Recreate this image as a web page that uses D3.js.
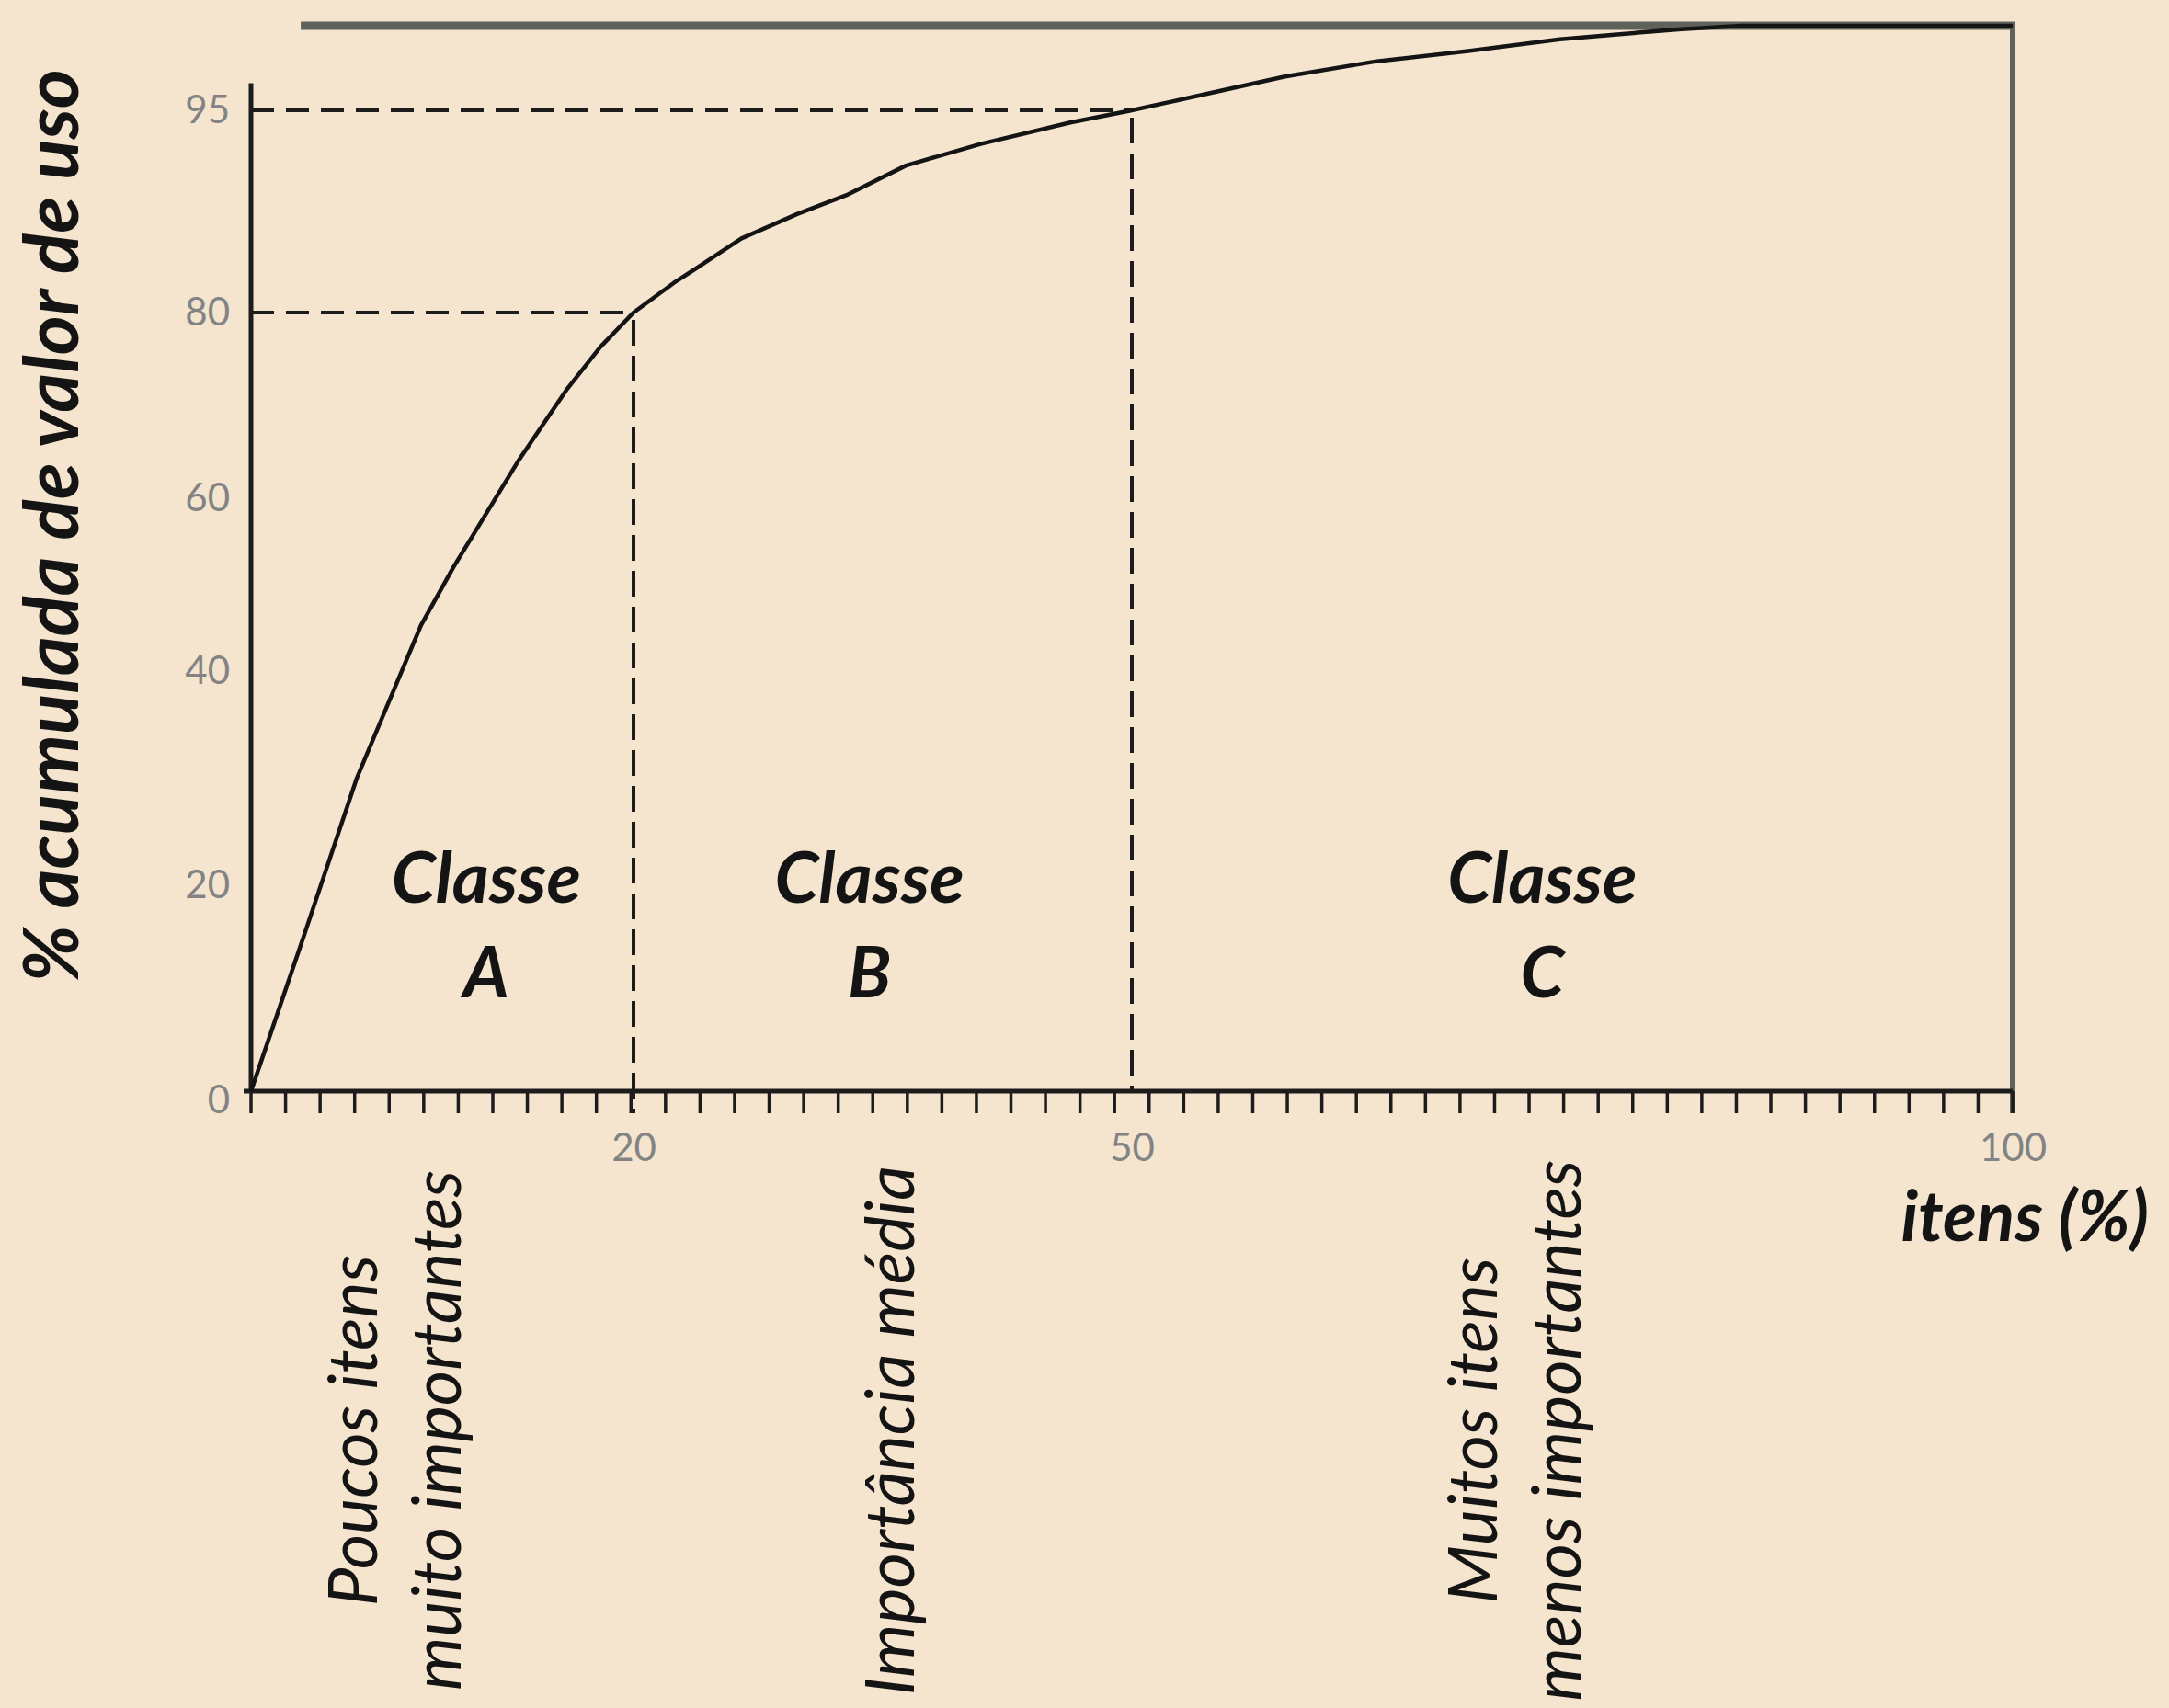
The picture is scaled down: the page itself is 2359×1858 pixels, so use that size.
<!DOCTYPE html>
<html>
<head>
<meta charset="utf-8">
<script src="https://cdn.jsdelivr.net/npm/d3@7"></script>
<style>
  html, body { margin: 0; padding: 0; background: #f5e5cf; }
  svg { display: block; }
</style>
</head>
<body>
<svg id="chart" width="2359" height="1858"></svg>
<script>
// ---------------- DATA ----------------
// Cumulative ABC (Pareto) curve: % of items vs cumulative % of usage value
const curveX = [0, 2.84, 5.53, 8.89, 10.58, 13.94, 16.54, 18.27, 20, 22.43, 24.3, 26.5, 29.85, 32.8, 36.4, 40.9, 46.3, 50, 53.5, 58.7, 63.9, 69.1, 74.3, 77.7, 81.2, 84.6, 100];
const curveY = [0, 15.5, 30.0, 45.3, 52.0, 63.9, 71.8, 76.3, 80, 82.2, 83.7, 85.5, 87.3, 88.7, 90.9, 92.5, 94.1, 95, 95.8, 97.0, 97.9, 98.5, 99.2, 99.5, 99.8, 100, 100];
const yTickValues = [0, 20, 40, 60, 80, 95];
const xTickValues = [20, 50, 100];
const cutoffX = [20, 50];      // class boundaries on items axis
const cutoffY = [80, 95];      // matching cumulative values
const classNames = ["A", "B", "C"];
const classCenters = [12.3, 34.2, 73.3];
const descLines = [["Poucos itens", "muito importantes"], ["Importância média"], ["Muitos itens", "menos importantes"]];
const descStart = [6.6, 36.9, 70.7];
const minorTickIntervals = 51;
const yTitle = "% acumulada de valor de uso";
const xTitle = "itens (%)";

// ---------------- LAYOUT ----------------
const svg = d3.select("#chart");
const x = d3.scaleLinear().domain([0, 20, 50, 100]).range([273, 689, 1231, 2189]);
const y = d3.scaleLinear().domain([0, 20, 40, 60, 80, 95, 100]).range([1187, 963, 730, 542, 340, 120, 28]);
const ruler = d3.scaleLinear().domain([0, minorTickIntervals]).range([x(0), x(100)]);
const tickLen = 24;
const ink = "#1c1c1c";
const frameGray = "#5e625a";
const labelGray = "#838383";
const font = "Lato, 'Open Sans', sans-serif";

svg.append("rect").attr("width", 2359).attr("height", 1858).attr("fill", "#f5e5cf");

// top (100%) line and right frame
svg.append("line")
  .attr("x1", x(2.6)).attr("x2", x(100) + 3)
  .attr("y1", y(100)).attr("y2", y(100))
  .attr("stroke", frameGray).attr("stroke-width", 9);
svg.append("line")
  .attr("x1", x(100)).attr("x2", x(100))
  .attr("y1", y(100)).attr("y2", y(0) + tickLen)
  .attr("stroke", frameGray).attr("stroke-width", 6);

// dashed cutoff lines
cutoffX.forEach((cx, i) => {
  svg.append("line")
    .attr("x1", x(0)).attr("x2", x(cx))
    .attr("y1", y(cutoffY[i])).attr("y2", y(cutoffY[i]))
    .attr("stroke", ink).attr("stroke-width", 4).attr("stroke-dasharray", "25 13");
  svg.append("line")
    .attr("x1", x(cx)).attr("x2", x(cx))
    .attr("y1", y(cutoffY[i]) + 8).attr("y2", y(0) + (i === 0 ? tickLen : 0))
    .attr("stroke", ink).attr("stroke-width", 4).attr("stroke-dasharray", "28 11");
});

// minor ticks along the x axis
svg.append("g").selectAll("line")
  .data(d3.range(minorTickIntervals + 1))
  .join("line")
  .attr("x1", d => ruler(d)).attr("x2", d => ruler(d))
  .attr("y1", y(0)).attr("y2", y(0) + tickLen)
  .attr("stroke", ink).attr("stroke-width", 3.5);

// axis lines
svg.append("line")
  .attr("x1", x(0) - 8).attr("x2", x(100))
  .attr("y1", y(0)).attr("y2", y(0))
  .attr("stroke", ink).attr("stroke-width", 5);
svg.append("line")
  .attr("x1", x(0)).attr("x2", x(0))
  .attr("y1", y(0)).attr("y2", y(96.6))
  .attr("stroke", ink).attr("stroke-width", 5);

// tick labels via d3 axes
const yAxis = svg.append("g").attr("transform", `translate(${x(0)},0)`)
  .call(d3.axisLeft(y).tickValues(yTickValues).tickSize(0).tickPadding(23));
const xAxis = svg.append("g").attr("transform", `translate(0,${y(0)})`)
  .call(d3.axisBottom(x).tickValues(xTickValues).tickSize(0).tickPadding(46));
[yAxis, xAxis].forEach(g => {
  g.select(".domain").remove();
  g.selectAll("text")
    .attr("fill", labelGray)
    .style("font-family", font)
    .style("font-size", "42px")
    .style("font-weight", 400);
});
yAxis.selectAll(".tick").filter(d => d === 0).select("text").attr("dy", "0.55em");

// curve
const pts = curveX.map((v, i) => [v, curveY[i]]);
svg.append("path")
  .datum(pts)
  .attr("fill", "none")
  .attr("stroke", "#141414")
  .attr("stroke-width", 4.5)
  .attr("stroke-linejoin", "round")
  .attr("d", d3.line().x(d => x(d[0])).y(d => y(d[1])).curve(d3.curveLinear));

// class labels
classNames.forEach((c, i) => {
  const t = svg.append("text")
    .attr("text-anchor", "middle")
    .attr("fill", "#141414")
    .style("font-family", font).style("font-style", "italic")
    .style("font-weight", 700).style("font-size", "77px");
  t.append("tspan").attr("x", x(classCenters[i])).attr("y", 982).text("Classe");
  t.append("tspan").attr("x", x(classCenters[i])).attr("y", 1085).text(c);
});

// axis titles
svg.append("text")
  .attr("transform", "translate(85,572) rotate(-90)")
  .attr("text-anchor", "middle")
  .attr("fill", "#141414")
  .style("font-family", font).style("font-style", "italic")
  .style("font-weight", 700).style("font-size", "82px")
  .text(yTitle);
svg.append("text")
  .attr("x", 2337).attr("y", 1350)
  .attr("text-anchor", "end")
  .attr("fill", "#141414")
  .style("font-family", font).style("font-style", "italic")
  .style("font-weight", 700).style("font-size", "76px")
  .text(xTitle);

// rotated descriptions under the axis
descLines.forEach((lines, i) => {
  lines.forEach((s, j) => {
    svg.append("text")
      .attr("transform", `translate(${x(descStart[i]) + j * 91},1556) rotate(-90)`)
      .attr("text-anchor", "middle")
      .attr("fill", "#141414")
      .style("font-family", font).style("font-style", "italic")
      .style("font-weight", 400).style("font-size", "74px")
      .text(s);
  });
});
</script>
</body>
</html>
